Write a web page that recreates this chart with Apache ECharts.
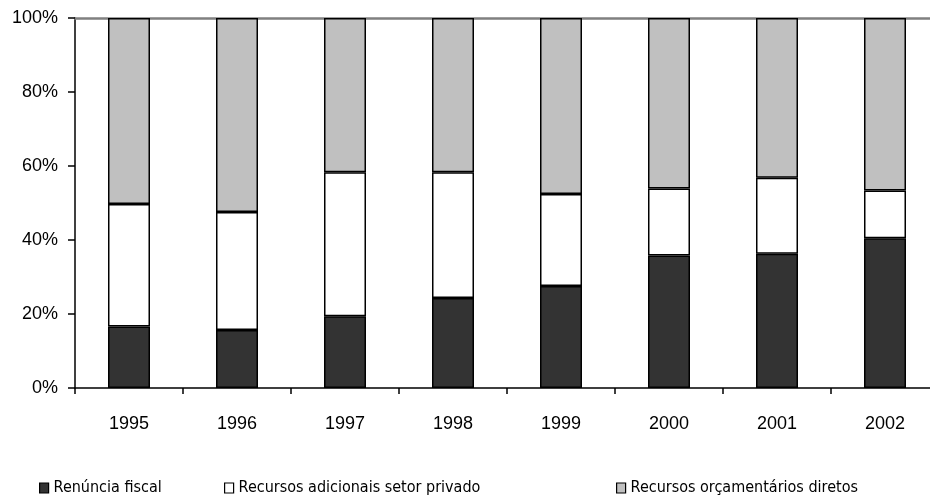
<!DOCTYPE html>
<html>
<head>
<meta charset="utf-8">
<script src="https://cdn.jsdelivr.net/npm/echarts@6/dist/echarts.min.js"></script>
<style>html,body{margin:0;padding:0;background:#fff}#c{width:930px;height:497px}</style>
</head>
<body>
<div id="c"></div>
<script>
const years = ['1995','1996','1997','1998','1999','2000','2001','2002'];
const renuncia = [16.6, 15.7, 19.4, 24.3, 27.6, 35.8, 36.3, 40.5];
const adicionais = [33.1, 31.9, 38.9, 34.0, 24.8, 18.1, 20.5, 12.9];
const orcamentarios = [50.3, 52.4, 41.7, 41.7, 47.6, 46.1, 43.2, 46.6];
const yTicks = [0, 20, 40, 60, 80, 100];
const names = ['Renúncia fiscal', 'Recursos adicionais setor privado', 'Recursos orçamentários diretos'];
const colors = ['#333333', '#ffffff', '#c0c0c0'];

const chart = echarts.init(document.getElementById('c'), null, {renderer: 'canvas'});
const labelFont = {fontFamily: 'Liberation Sans', fontSize: 18, color: '#000'};
const legendFont = {fontFamily: 'DejaVu Sans Condensed', fontSize: 16, color: '#000'};
function mkLegend(i, left) {
  return {
    data: [names[i]], left: left, top: 480, itemWidth: 9, itemHeight: 10, itemGap: 0,
    icon: 'rect', textStyle: legendFont, selectedMode: false, padding: 0,
    itemStyle: {borderColor: '#000', borderWidth: 1.2}
  };
}
const seriesData = [renuncia, adicionais, orcamentarios];
chart.setOption({
  animation: false,
  grid: {left: 75, width: 864, top: 18, height: 370, containLabel: false, outerBoundsMode: 'none'},
  legend: [mkLegend(0, 39), mkLegend(1, 224), mkLegend(2, 616)],
  xAxis: [{
    type: 'category', data: years, position: 'bottom',
    axisLine: {lineStyle: {color: '#000', width: 1.5}},
    axisTick: {show: true, length: 6, lineStyle: {color: '#000', width: 1.5}},
    axisLabel: Object.assign({margin: 27}, labelFont)
  }, {
    type: 'category', data: years, position: 'top',
    axisLine: {lineStyle: {color: '#808080', width: 2.5}},
    axisTick: {show: false}, axisLabel: {show: false}
  }],
  yAxis: {
    type: 'value', min: 0, max: 100, interval: 20,
    axisLine: {show: true, lineStyle: {color: '#000', width: 1.5}},
    axisTick: {show: true, length: 7, lineStyle: {color: '#000', width: 1.5}},
    splitLine: {show: false},
    axisLabel: Object.assign({margin: 17, formatter: v => yTicks.includes(v) ? v + '%' : ''}, labelFont)
  },
  series: seriesData.map((d, i) => ({
    name: names[i], type: 'bar', stack: 'total', data: d, barWidth: 42,
    itemStyle: {color: colors[i], borderColor: '#000', borderWidth: 1.5}
  }))
});
</script>
</body>
</html>
